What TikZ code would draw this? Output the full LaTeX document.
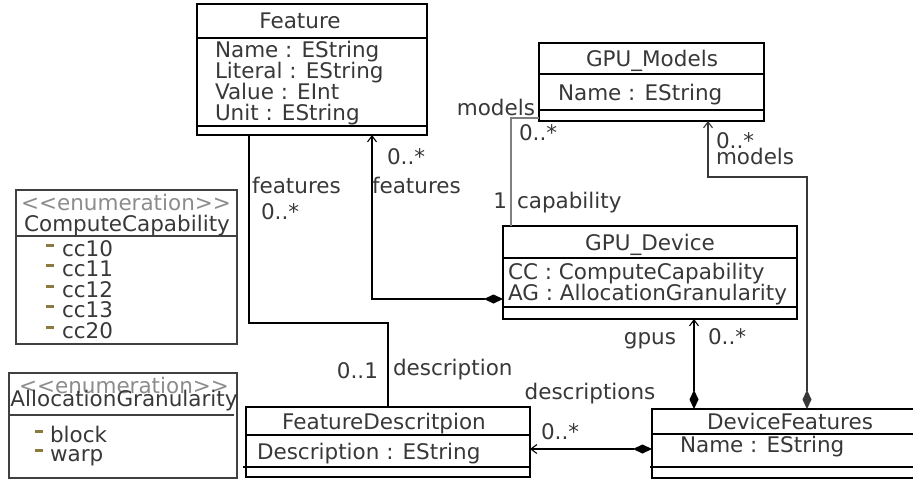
\documentclass[tikz,border=0pt]{standalone}
\usepackage{fontspec}
\setmainfont{DejaVu Sans}
\usetikzlibrary{arrows.meta}
\definecolor{txt}{HTML}{383838}
\definecolor{stereo}{HTML}{8C8C8C}
\definecolor{lit}{HTML}{8B7A3E}
\definecolor{enumline}{HTML}{404040}
\definecolor{lnk}{HTML}{808080}
\begin{document}
\begin{tikzpicture}[x=1pt,y=-1pt,
  every node/.style={font=\fontsize{21.5}{21}\selectfont, text=txt, inner sep=0pt, outer sep=0pt},
  box/.style={draw=black, line width=1.2pt, anchor=north west, rectangle},
  ebox/.style={draw=enumline, line width=1.2pt, anchor=north west, rectangle},
  lt/.style={anchor=base west},
  ct/.style={anchor=base},
  rt/.style={anchor=base east},
  st/.style={anchor=base, text=stereo},
  sepl/.style={line width=1.2pt},
  conn/.style={draw=black, line width=1.1pt},
  comp/.style={conn, {Diamond[length=19pt,width=9pt]}-{Straight Barb[length=6pt,width=9pt]}},
]
\useasboundingbox (0,0) rectangle (913,479);

% ---------- Feature ----------
\node[box, minimum width=230pt, minimum height=131pt] (feature) at (197,4) {};
\draw[sepl] ([yshift=-34pt]feature.north west) -- ([yshift=-34pt]feature.north east);
\draw[sepl] ([yshift=-122pt]feature.north west) -- ([yshift=-122pt]feature.north east);
\node[ct] (featureT) at (300,28) {Feature};
\node[lt] (fa1) at (215,57) {Name : EString};
\node[lt] (fa2) at (215,78) {Literal : EString};
\node[lt] (fa3) at (215,99) {Value : EInt};
\node[lt] (fa4) at (215,120) {Unit : EString};

% ---------- GPU_Models ----------
\node[box, minimum width=225pt, minimum height=78pt] (gpumod) at (539,43) {};
\draw[sepl] ([yshift=-31pt]gpumod.north west) -- ([yshift=-31pt]gpumod.north east);
\draw[sepl] ([yshift=-67pt]gpumod.north west) -- ([yshift=-67pt]gpumod.north east);
\node[ct] (gpumodT) at (652,66) {GPU\_Models};
\node[lt] (gma1) at (558,100) {Name : EString};

% ---------- GPU_Device ----------
\node[box, minimum width=294pt, minimum height=93pt] (gpudev) at (503,226) {};
\draw[sepl] ([yshift=-32pt]gpudev.north west) -- ([yshift=-32pt]gpudev.north east);
\draw[sepl] ([yshift=-81pt]gpudev.north west) -- ([yshift=-81pt]gpudev.north east);
\node[ct] (gpudevT) at (650,250) {GPU\_Device};
\node[lt] (gda1) at (508,279) {CC : ComputeCapability};
\node[lt] (gda2) at (508,300) {AG : AllocationGranularity};

% ---------- FeatureDescritpion ----------
\node[box, minimum width=284pt, minimum height=70pt] (fdesc) at (246,407) {};
\draw[sepl] ([yshift=-28pt]fdesc.north west) -- ([yshift=-28pt]fdesc.north east);
\draw[sepl] ([yshift=-60pt,xshift=-3pt]fdesc.north west) -- ([yshift=-60pt]fdesc.north east);
\node[ct] (fdescT) at (384,429) {FeatureDescritpion};
\node[lt] (fda1) at (257,459) {Description : EString};

% ---------- DeviceFeatures ----------
\node[box, minimum width=262pt, minimum height=69pt] (devf) at (652,409) {};
\draw[sepl] ([yshift=-25pt]devf.north west) -- ([yshift=-25pt]devf.north east);
\draw[sepl] ([yshift=-58pt,xshift=-2pt]devf.north west) -- ([yshift=-58pt]devf.north east);
\node[ct] (devfT) at (790,429) {DeviceFeatures};
\node[lt] (dfa1) at (680,452) {Name : EString};

% ---------- ComputeCapability ----------
\node[ebox, minimum width=221pt, minimum height=154pt] (ccenum) at (16,190) {};
\draw[sepl, draw=enumline] ([yshift=-46pt]ccenum.north west) -- ([yshift=-46pt]ccenum.north east);
\node[st] (ccS) at (126,210) {<\kern0pt<enumeration>\kern0pt>};
\node[ct] (ccT) at (127,231) {ComputeCapability};
\foreach \lbl/\b [count=\i] in {cc10/256,cc11/276.5,cc12/297,cc13/317.5,cc20/338}{
  \fill[lit] (46,\b-12.5) rectangle (54,\b-9.5);
  \node[lt] (cc\i) at (62,\b) {\lbl};
}

% ---------- AllocationGranularity ----------
\node[ebox, minimum width=228pt, minimum height=105pt] (agenum) at (9,373) {};
\draw[sepl, draw=enumline] ([yshift=-42pt,xshift=1pt]agenum.north west) -- ([yshift=-42pt,xshift=-3pt]agenum.north east);
\node[st] (agS) at (124,393) {<\kern0pt<enumeration>\kern0pt>};
\node[ct] (agT) at (124,406) {AllocationGranularity};
\fill[lit] (35,429.5) rectangle (43,432.5);
\node[lt] (ag1) at (50,442) {block};
\fill[lit] (35,448.5) rectangle (43,451.5);
\node[lt] (ag2) at (50,461) {warp};

% ---------- connectors ----------
% Feature -- FeatureDescritpion
\coordinate (k1) at (249,323);
\draw[conn] (k1 |- feature.south) -- (k1) -| (fdesc.north);
\node[lt] (l1a) at (252,193) {features};
\node[lt] (l1b) at (261,219) {0..*};
\node[rt] (l1c) at (378,378) {0..1};
\node[lt] (l1d) at (393,375) {description};

% GPU_Device -> Feature
\coordinate (k2) at (372,299);
\draw[comp] (k2 -| gpudev.west) -- (k2) -- (k2 |- feature.south);
\node[lt] (l2a) at (387,164) {0..*};
\node[lt] (l2b) at (372,193) {features};

% GPU_Device -- GPU_Models
\coordinate (k3) at (511,118);
\draw[conn, draw=lnk] (k3 |- gpudev.north) -- (k3) -- (k3 -| gpumod.west);
\node[rt] (l3a) at (535,115) {models};
\node[lt] (l3b) at (519,140) {0..*};
\node[rt] (l3c) at (507,208) {1};
\node[lt] (l3d) at (517,208) {capability};

% DeviceFeatures -> GPU_Models
\coordinate (k4a) at (807,177);
\coordinate (k4b) at (708,177);
\draw[comp, draw=txt] (k4a |- devf.north) -- (k4a) -- (k4b) -- (k4b |- gpumod.south);
\node[lt] (l4a) at (716,148) {0..*};
\node[lt] (l4b) at (716,164) {models};

% DeviceFeatures -> GPU_Device
\coordinate (k5) at (694,360);
\draw[comp] (k5 |- devf.north) -- (k5 |- gpudev.south);
\node[rt] (l5a) at (676,344) {gpus};
\node[lt] (l5b) at (708,344) {0..*};

% DeviceFeatures -> FeatureDescritpion
\coordinate (k6) at (600,449);
\draw[comp] (k6 -| devf.west) -- (k6 -| fdesc.east);
\node[ct] (l6a) at (590,399) {descriptions};
\node[lt] (l6b) at (541,439) {0..*};
\end{tikzpicture}
\end{document}
